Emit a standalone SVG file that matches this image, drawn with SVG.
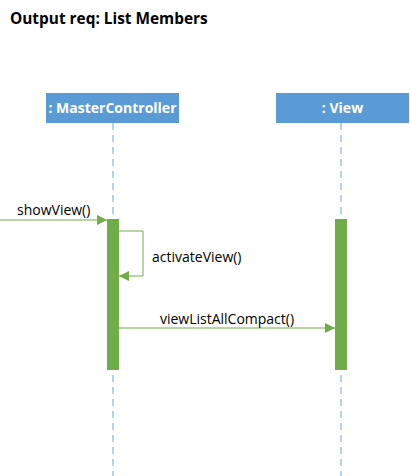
<svg xmlns="http://www.w3.org/2000/svg" width="410" height="476" viewBox="0 0 410 476">
<defs>
<style>
.title{font-family:"Open Sans","Liberation Sans",sans-serif;font-weight:bold;font-size:15.4px;fill:#000}
.box{fill:#5B9BD5}
.boxt{font-family:"Open Sans","Liberation Sans",sans-serif;font-weight:bold;font-size:14px;fill:#fff;text-anchor:middle}
.life{stroke:#9DC3E6;stroke-width:1.5;stroke-dasharray:7,5;fill:none}
.act{fill:#70AD47}
.msg{stroke:#70AD47;stroke-width:1;fill:none}
.lbl{font-family:"Open Sans","Liberation Sans",sans-serif;font-size:14px;fill:#000}
</style>
<marker id="ah" viewBox="0 0 10 10" refX="10" refY="5" markerWidth="10" markerHeight="10" markerUnits="userSpaceOnUse" orient="auto">
<path d="M0,0 L10,5 L0,10 Z" fill="#70AD47"/>
</marker>
</defs>
<rect width="410" height="476" fill="#fff"/>
<text class="title" x="10" y="24">Output req: List Members</text>
<g id="MasterController">
<rect class="box" x="46" y="93" width="133" height="30"/>
<text class="boxt" x="112.5" y="113">: MasterController</text>
<line class="life" x1="113" y1="123" x2="113" y2="476"/>
<rect class="act" x="107" y="219" width="12" height="151"/>
</g>
<g id="View">
<rect class="box" x="276" y="93" width="133" height="30"/>
<text class="boxt" x="342.5" y="113">: View</text>
<line class="life" x1="341" y1="123" x2="341" y2="476"/>
<rect class="act" x="335" y="219" width="12" height="151"/>
</g>
<g id="connectors">
<line class="msg" x1="0" y1="220" x2="107" y2="220" marker-end="url(#ah)"/>
<text class="lbl" x="17" y="215">showView()</text>
<polyline class="msg" points="119,231 143,231 143,276 119,276" marker-end="url(#ah)"/>
<text class="lbl" x="152" y="262">activateView()</text>
<line class="msg" x1="119" y1="328" x2="335" y2="328" marker-end="url(#ah)"/>
<text class="lbl" x="227" y="324" text-anchor="middle">viewListAllCompact()</text>
</g>
</svg>
